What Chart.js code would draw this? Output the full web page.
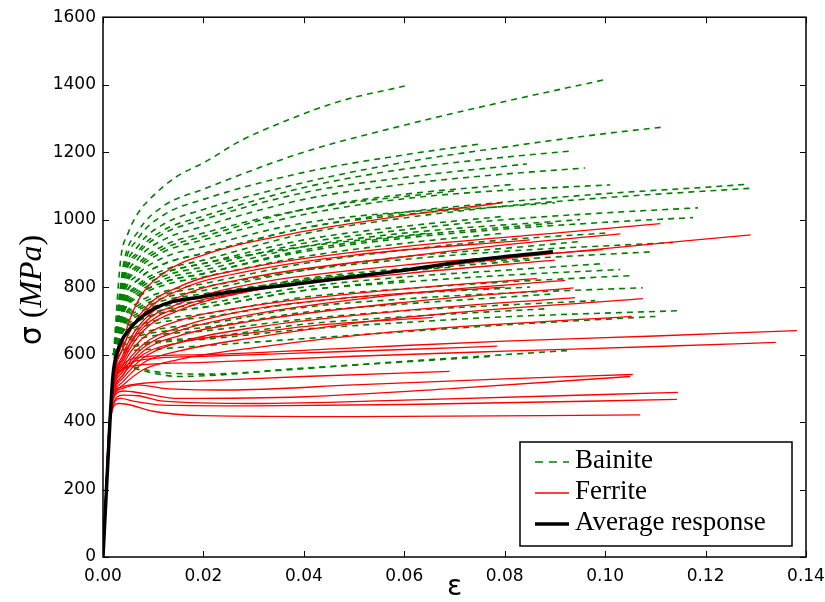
<!DOCTYPE html>
<html>
<head>
<meta charset="utf-8">
<script src="https://cdn.jsdelivr.net/npm/chart.js@4.4.1/dist/chart.umd.min.js"></script>
<style>
  body { margin: 0; background: #fff; }
  canvas { display: block; }
</style>
</head>
<body>
<canvas id="chart" width="825" height="602"></canvas>
<script>
// tick values
const xTicks = [0, 0.02, 0.04, 0.06, 0.08, 0.10, 0.12, 0.14]
const yTicks = [0, 200, 400, 600, 800, 1000, 1200, 1400, 1600]

// bainite curves, [strain, stress MPa]
const bainiteCurves = [
  [[0.0021,600],[0.0035,880],[0.005,960],[0.007,1020],[0.0094,1062],[0.0143,1124],[0.0207,1174],[0.0273,1233],[0.0373,1298],[0.0472,1351],[0.0601,1396]],
  [[0.0021,600],[0.004,860],[0.007,965],[0.012,1040],[0.02,1090],[0.04,1200],[0.06,1280],[0.08,1350],[0.1,1415]],
  [[0.0021,600],[0.004,830],[0.007,922],[0.012,986],[0.02,1030],[0.04,1110],[0.06,1170],[0.08,1215],[0.1,1255],[0.112,1275]],
  [[0.0021,600],[0.004,845],[0.007,944],[0.012,1013],[0.02,1060],[0.04,1140],[0.06,1192],[0.075,1224]],
  [[0.0021,600],[0.004,820],[0.007,906],[0.012,968],[0.02,1010],[0.04,1095],[0.06,1150],[0.08,1185],[0.0936,1204]],
  [[0.0021,600],[0.004,802],[0.007,884],[0.012,940],[0.02,980],[0.04,1060],[0.06,1105],[0.08,1135],[0.096,1153]],
  [[0.0021,600],[0.004,814],[0.007,898],[0.012,958],[0.02,1000],[0.04,1080],[0.06,1125],[0.0844,1165]],
  [[0.0021,600],[0.004,780],[0.007,852],[0.012,904],[0.02,940],[0.04,1015],[0.06,1062],[0.08,1087],[0.101,1103]],
  [[0.0021,600],[0.004,758],[0.007,822],[0.012,868],[0.02,900],[0.04,975],[0.06,1022],[0.08,1052],[0.1,1077],[0.12,1096],[0.1285,1105]],
  [[0.0021,600],[0.004,747],[0.007,807],[0.012,850],[0.02,880],[0.04,958],[0.06,1005],[0.08,1040],[0.1,1065],[0.129,1093]],
  [[0.0021,600],[0.004,736],[0.007,792],[0.012,832],[0.02,860],[0.04,930],[0.06,970],[0.08,1000],[0.1,1020],[0.1185,1035]],
  [[0.0021,600],[0.004,725],[0.007,776],[0.012,814],[0.02,840],[0.04,905],[0.06,945],[0.08,972],[0.1,992],[0.1175,1006]],
  [[0.0021,600],[0.004,702],[0.007,746],[0.012,777],[0.02,800],[0.04,850],[0.06,882],[0.08,906],[0.1135,932]],
  [[0.0021,600],[0.004,684],[0.007,723],[0.012,750],[0.02,770],[0.04,825],[0.06,855],[0.08,880],[0.1097,905]],
  [[0.0021,600],[0.004,656],[0.007,685],[0.012,706],[0.02,720],[0.04,770],[0.06,795],[0.08,815],[0.105,834]],
  [[0.0021,600],[0.004,668],[0.007,700],[0.012,724],[0.02,740],[0.04,790],[0.06,815],[0.08,835],[0.103,852]],
  [[0.0021,600],[0.004,638],[0.007,661],[0.012,678],[0.02,690],[0.04,740],[0.06,765],[0.08,782],[0.1075,798]],
  [[0.0021,595],[0.004,611],[0.007,626],[0.012,637],[0.02,645],[0.04,675],[0.06,695],[0.08,712],[0.1147,730]],
  [[0.0021,590],[0.005,610],[0.01,616],[0.015,621],[0.035,642],[0.06,668],[0.08,688],[0.11,713]],
  [[0.0019,545],[0.005,560],[0.01,545],[0.015,535],[0.035,553],[0.06,580],[0.0926,612]],
  [[0.0019,545],[0.005,565],[0.01,550],[0.02,542],[0.04,560],[0.078,595]],
  [[0.0021,598],[0.004,614],[0.007,630],[0.012,642],[0.02,650],[0.04,690],[0.06,712],[0.0884,736]],
  [[0.0021,600],[0.004,730],[0.007,784],[0.012,823],[0.02,850],[0.04,920],[0.06,960],[0.095,1000]],
  [[0.0021,600],[0.004,758],[0.007,822],[0.012,868],[0.02,900],[0.04,975],[0.06,1015],[0.09,1050]],
  [[0.0021,600],[0.004,720],[0.007,770],[0.012,805],[0.02,830],[0.04,890],[0.06,930],[0.08,960]],
  [[0.0021,600],[0.004,680],[0.007,716],[0.012,742],[0.02,760],[0.04,820],[0.06,850],[0.085,880]],
  [[0.0021,600],[0.004,690],[0.007,731],[0.012,760],[0.02,780],[0.04,820],[0.07,860]],
  [[0.0021,600],[0.004,632],[0.007,654],[0.012,669],[0.02,680],[0.04,725],[0.06,750],[0.09,780]],
  [[0.0021,600],[0.004,742],[0.007,800],[0.012,841],[0.02,870],[0.04,940],[0.06,980],[0.08,1010]],
  [[0.0021,600],[0.004,696],[0.007,738],[0.012,768],[0.02,790],[0.04,850],[0.06,890],[0.08,915],[0.095,935]],
  [[0.0021,600],[0.004,674],[0.007,708],[0.012,733],[0.02,750],[0.04,800],[0.06,830],[0.08,850],[0.1,870]],
  [[0.0021,600],[0.004,742],[0.007,800],[0.012,841],[0.02,870],[0.04,920],[0.065,960]],
  [[0.0021,600],[0.004,786],[0.007,860],[0.012,913],[0.02,950],[0.04,1030],[0.06,1075],[0.082,1105]],
  [[0.0021,600],[0.004,626],[0.007,646],[0.012,660],[0.02,670],[0.04,705],[0.06,730],[0.098,760]],
  [[0.0021,600],[0.004,668],[0.007,700],[0.012,724],[0.02,740],[0.04,790],[0.06,820]],
  [[0.0021,600],[0.004,725],[0.007,776],[0.012,814],[0.02,840],[0.04,910],[0.06,950],[0.09,990]],
  [[0.0021,600],[0.004,708],[0.007,754],[0.012,786],[0.02,810],[0.04,870],[0.06,910],[0.08,940],[0.1,960]],
  [[0.0021,600],[0.004,792],[0.007,868],[0.012,922],[0.02,960],[0.04,1030],[0.07,1085]],
  [[0.0021,600],[0.004,770],[0.007,838],[0.012,887],[0.02,920],[0.04,990],[0.075,1040]],
  [[0.0021,600],[0.004,650],[0.007,677],[0.012,697],[0.02,710],[0.04,755],[0.06,780],[0.085,800]]
]

// ferrite curves
const ferriteCurves = [
  [[0,0],[0.0017,480],[0.004,640],[0.007,760],[0.012,840],[0.02,895],[0.04,965],[0.06,1012],[0.0795,1050]],
  [[0,0],[0.0017,480],[0.004,620],[0.008,730],[0.015,800],[0.03,860],[0.06,920],[0.09,960],[0.111,988]],
  [[0,0],[0.0016,460],[0.004,600],[0.008,700],[0.015,770],[0.03,830],[0.06,890],[0.08,925],[0.103,958]],
  [[0,0],[0.0016,460],[0.004,580],[0.008,670],[0.015,730],[0.03,790],[0.06,850],[0.09,900],[0.129,955]],
  [[0,0],[0.0016,460],[0.004,590],[0.008,690],[0.015,750],[0.03,810],[0.06,865],[0.0996,911]],
  [[0,0],[0.0016,450],[0.004,570],[0.008,650],[0.015,700],[0.03,745],[0.06,795],[0.0864,825]],
  [[0,0],[0.0016,450],[0.004,550],[0.008,620],[0.015,670],[0.03,720],[0.06,780],[0.092,820]],
  [[0,0],[0.0016,440],[0.004,540],[0.008,610],[0.015,655],[0.03,700],[0.06,755],[0.0937,798]],
  [[0,0],[0.0016,440],[0.004,530],[0.008,590],[0.015,635],[0.03,680],[0.06,730],[0.094,769]],
  [[0,0],[0.0015,430],[0.004,520],[0.008,575],[0.015,610],[0.03,650],[0.06,710],[0.1075,766]],
  [[0,0],[0.0015,430],[0.004,510],[0.008,555],[0.015,585],[0.03,620],[0.06,670],[0.1053,713]],
  [[0,0],[0.0015,430],[0.004,540],[0.008,600],[0.015,635],[0.03,665],[0.045,690],[0.0657,710]],
  [[0,0],[0.0017,480],[0.004,570],[0.008,593],[0.02,600],[0.05,620],[0.08,640],[0.11,655],[0.1382,671]],
  [[0,0],[0.0017,470],[0.004,555],[0.008,570],[0.02,577],[0.05,595],[0.08,610],[0.11,624],[0.134,636]],
  [[0,0],[0.0017,475],[0.004,560],[0.008,585],[0.02,595],[0.04,605],[0.06,615],[0.0785,625]],
  [[0,0],[0.0016,460],[0.004,505],[0.008,515],[0.02,522],[0.04,535],[0.069,550]],
  [[0,0],[0.0016,450],[0.004,500],[0.007,510],[0.012,500],[0.025,495],[0.05,510],[0.08,528],[0.1055,541]],
  [[0,0],[0.0015,440],[0.004,492],[0.008,485],[0.015,470],[0.04,475],[0.07,500],[0.105,535]],
  [[0,0],[0.0015,430],[0.004,480],[0.007,478],[0.012,462],[0.03,455],[0.06,465],[0.1145,488]],
  [[0,0],[0.0015,420],[0.0035,470],[0.006,462],[0.012,450],[0.03,448],[0.06,452],[0.1143,467]],
  [[0,0],[0.0014,400],[0.003,455],[0.005,452],[0.01,432],[0.02,419],[0.05,416],[0.107,421]],
  [[0,0],[0.0016,460],[0.004,590],[0.008,680],[0.015,740],[0.03,790],[0.06,840],[0.09,880]],
  [[0,0],[0.0017,470],[0.004,620],[0.008,720],[0.015,790],[0.03,850],[0.05,895],[0.085,940]],
  [[0,0],[0.0016,450],[0.004,560],[0.008,630],[0.015,680],[0.03,735],[0.05,770],[0.08,800]]
]

// average response
const averageStrain = [0, 0.0014, 0.002, 0.003, 0.005, 0.01, 0.02, 0.04, 0.06, 0.073, 0.0896]
const averageStress = [0, 405, 540, 615, 670, 735, 772, 812, 850, 878, 905]

const green = '#008000'
const red = '#ff0000'

function toPoints(curve) {
  return curve.map(p => ({ x: p[0], y: p[1] }))
}

const datasets = []
datasets.push({
  label: 'Average response',
  data: averageStrain.map((e, i) => ({ x: e, y: averageStress[i] })),
  borderColor: '#000',
  borderWidth: 3.5,
  order: 0
})
ferriteCurves.forEach((c, i) => {
  datasets.push({
    label: i === 0 ? 'Ferrite' : '',
    data: toPoints(c),
    borderColor: red,
    borderWidth: 1.3,
    order: 1
  })
})
bainiteCurves.forEach((c, i) => {
  datasets.push({
    label: i === 0 ? 'Bainite' : '',
    data: toPoints(c),
    borderColor: green,
    borderWidth: 1.6,
    borderDash: [6, 5],
    order: 2
  })
})

// frame, inward ticks, axis labels and legend (matplotlib look)
const framePlugin = {
  id: 'frame',
  afterDraw(chart) {
    const { ctx, chartArea: a, scales } = chart
    const x = scales.x, y = scales.y
    ctx.save()
    ctx.strokeStyle = '#000'
    ctx.lineWidth = 1.5
    ctx.setLineDash([])
    ctx.strokeRect(a.left, a.top, a.right - a.left, a.bottom - a.top)
    ctx.lineWidth = 1
    ctx.beginPath()
    xTicks.forEach(v => {
      const px = Math.round(x.getPixelForValue(v)) + 0.5
      ctx.moveTo(px, a.bottom); ctx.lineTo(px, a.bottom - 6)
      ctx.moveTo(px, a.top); ctx.lineTo(px, a.top + 6)
    })
    yTicks.forEach(v => {
      const py = Math.round(y.getPixelForValue(v)) + 0.5
      ctx.moveTo(a.left, py); ctx.lineTo(a.left + 6, py)
      ctx.moveTo(a.right, py); ctx.lineTo(a.right - 6, py)
    })
    ctx.stroke()

    // x label
    ctx.fillStyle = '#000'
    ctx.textAlign = 'center'
    ctx.textBaseline = 'middle'
    ctx.font = '28px "DejaVu Sans"'
    ctx.fillText('ε', (a.left + a.right) / 2, 588)

    // y label: σ (MPa)
    ctx.save()
    ctx.translate(31, 290)
    ctx.rotate(-Math.PI / 2)
    const parts = [
      ['σ', '30px "DejaVu Sans"'],
      [' (', '32px "Liberation Serif"'],
      ['MPa', 'italic 32px "Liberation Serif"'],
      [')', '32px "Liberation Serif"']
    ]
    let total = 0
    parts.forEach(p => { ctx.font = p[1]; total += ctx.measureText(p[0]).width })
    let cx = -total / 2
    ctx.textAlign = 'left'
    ctx.textBaseline = 'alphabetic'
    parts.forEach(p => {
      ctx.font = p[1]
      ctx.fillText(p[0], cx, 10)
      cx += ctx.measureText(p[0]).width
    })
    ctx.restore()

    // legend
    const lx = 520, ly = 442, lw = 272, lh = 104
    ctx.fillStyle = '#fff'
    ctx.fillRect(lx, ly, lw, lh)
    ctx.strokeStyle = '#000'
    ctx.lineWidth = 1.5
    ctx.strokeRect(lx, ly, lw, lh)
    const rows = [
      { text: 'Bainite', color: green, width: 1.6, dash: [8, 6] },
      { text: 'Ferrite', color: red, width: 1.3, dash: [] },
      { text: 'Average response', color: '#000', width: 3.5, dash: [] }
    ]
    rows.forEach((r, i) => {
      const ry = 461 + i * 31
      ctx.strokeStyle = r.color
      ctx.lineWidth = r.width
      ctx.setLineDash(r.dash)
      ctx.beginPath()
      ctx.moveTo(535, ry + 1); ctx.lineTo(569, ry + 1)
      ctx.stroke()
      ctx.setLineDash([])
      ctx.fillStyle = '#000'
      ctx.font = '27px "Liberation Serif"'
      ctx.textAlign = 'left'
      ctx.textBaseline = 'middle'
      ctx.fillText(r.text, 575, ry)
    })
    ctx.restore()
  }
}

new Chart(document.getElementById('chart'), {
  type: 'line',
  data: { datasets: datasets },
  options: {
    responsive: false,
    animation: false,
    events: [],
    layout: { padding: { left: 0, top: 16, right: 19, bottom: 0 } },
    elements: {
      point: { radius: 0 },
      line: { cubicInterpolationMode: 'monotone', fill: false }
    },
    plugins: {
      legend: { display: false },
      tooltip: { enabled: false }
    },
    scales: {
      x: {
        type: 'linear',
        min: 0,
        max: 0.14,
        afterFit(scale) {
          scale.height = 45
          scale.paddingLeft = 0
          scale.paddingRight = 0
        },
        afterBuildTicks(scale) { scale.ticks = xTicks.map(v => ({ value: v })) },
        grid: { display: false, drawTicks: false, tickLength: 0 },
        border: { display: false },
        ticks: {
          color: '#000',
          padding: 9,
          font: { family: 'DejaVu Sans', size: 17 },
          callback: v => v.toFixed(2)
        }
      },
      y: {
        type: 'linear',
        min: 0,
        max: 1600,
        afterFit(scale) { scale.width = 103 },
        afterBuildTicks(scale) { scale.ticks = yTicks.map(v => ({ value: v })) },
        grid: { display: false, drawTicks: false, tickLength: 0 },
        border: { display: false },
        ticks: {
          color: '#000',
          padding: 7,
          font: { family: 'DejaVu Sans', size: 17 },
          callback: v => String(v)
        }
      }
    }
  },
  plugins: [framePlugin]
})
</script>
</body>
</html>
